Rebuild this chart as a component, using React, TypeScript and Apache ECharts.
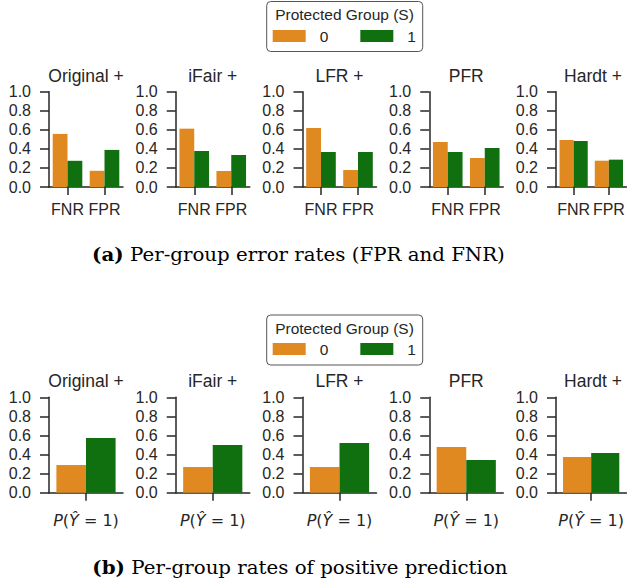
import React, { useEffect, useRef } from "react";
import * as echarts from "echarts";

const methods = ["Original +", "iFair +", "LFR +", "PFR", "Hardt +"];
const errorMetrics = ["FNR", "FPR"];
const groups = ["0", "1"];
// Per-group error rates
const fnrGroup0 = [0.557, 0.612, 0.619, 0.472, 0.493];
const fnrGroup1 = [0.275, 0.378, 0.367, 0.367, 0.483];
const fprGroup0 = [0.17, 0.168, 0.178, 0.304, 0.276];
const fprGroup1 = [0.389, 0.336, 0.367, 0.409, 0.287];
// Per-group positive prediction rates
const posCategory = ["P(Ŷ = 1)"];
const posGroup0 = [0.29, 0.269, 0.269, 0.479, 0.374];
const posGroup1 = [0.573, 0.5, 0.521, 0.343, 0.416];
const yTicks = [0, 0.2, 0.4, 0.6, 0.8, 1.0];

const ORANGE = "#DF8920";
const GREEN = "#107010";
const INK = "#262626";
const SANS = '"Liberation Sans", Arial, sans-serif';
const SERIF = '"DejaVu Serif", serif';

export default function App() {
  const ref = useRef<HTMLDivElement>(null);
  useEffect(() => {
    if (!ref.current) return;
    const chart = echarts.init(ref.current, undefined, { renderer: "svg" });
    const colLeft = (i: number) => 49 + i * 126.75;
    const gw = 74;
    const rows = [
      { top: 91.7, height: 95.3 },
      { top: 397.3, height: 95.4 },
    ];
    const grids: any[] = [];
    const xAxes: any[] = [];
    const yAxes: any[] = [];
    const series: any[] = [];
    const graphics: any[] = [];
    const axisLine = { show: true, lineStyle: { color: INK, width: 1.5 } };
    rows.forEach((r, ri) => {
      methods.forEach((m, i) => {
        const gi = ri * 5 + i;
        grids.push({ left: colLeft(i), top: r.top, width: gw, height: r.height });
        xAxes.push({
          type: "category",
          gridIndex: gi,
          data: ri === 0 ? errorMetrics : posCategory,
          axisLine,
          axisTick: { show: true, alignWithLabel: true, length: 8, lineStyle: { color: INK, width: 1.5 } },
          axisLabel:
            ri === 0
              ? { interval: 0, fontSize: 16, color: INK, fontFamily: SANS, margin: 14 }
              : {
                  interval: 0,
                  fontSize: 16,
                  color: INK,
                  fontFamily: '"DejaVu Sans", sans-serif',
                  margin: 20,
                  formatter: () => "{i|P}({i|Ŷ} = 1)",
                  rich: { i: { fontStyle: "italic", fontSize: 16, color: INK, fontFamily: '"DejaVu Sans", sans-serif' } },
                },
        });
        yAxes.push({
          type: "value",
          gridIndex: gi,
          min: yTicks[0],
          max: yTicks[yTicks.length - 1],
          interval: 0.2,
          splitLine: { show: false },
          axisLine,
          axisTick: { show: true, length: 9, lineStyle: { color: INK, width: 1.5 } },
          axisLabel: { fontSize: 16, color: INK, fontFamily: SANS, margin: 18, formatter: (v: number) => v.toFixed(1) },
        });
        const d0 = ri === 0 ? [fnrGroup0[i], fprGroup0[i]] : [posGroup0[i]];
        const d1 = ri === 0 ? [fnrGroup1[i], fprGroup1[i]] : [posGroup1[i]];
        [d0, d1].forEach((d, k) => {
          series.push({
            type: "bar",
            name: groups[k],
            xAxisIndex: gi,
            yAxisIndex: gi,
            data: d,
            barGap: "0%",
            barCategoryGap: "20%",
            itemStyle: { color: k === 0 ? ORANGE : GREEN },
          });
        });
        graphics.push({
          type: "text",
          x: colLeft(i) + gw / 2,
          y: r.top - 16,
          style: { text: m, fill: INK, fontSize: 17.5, fontFamily: SANS, align: "center", verticalAlign: "middle" },
        });
      });
    });
    // legend boxes and titles
    const legendOffsets = [0, 313.5];
    legendOffsets.forEach((off) => {
      graphics.push({
        type: "rect",
        shape: { x: 266.7, y: 1.5 + off, width: 156, height: 50, r: 4 },
        style: { fill: "#ffffff", stroke: "#555555", lineWidth: 1 },
        z: 0,
      });
      graphics.push({
        type: "text",
        x: 344.5,
        y: 14.5 + off,
        z: 1,
        style: { text: "Protected Group (S)", fill: INK, fontSize: 15.5, fontFamily: SANS, align: "center", verticalAlign: "middle" },
      });
    });
    const caption = (text: string, x: number, y: number) => ({
      type: "text",
      x,
      y,
      scaleX: 1.1,
      style: {
        text,
        fill: "#000",
        fontSize: 18,
        fontFamily: SERIF,
        align: "center",
        verticalAlign: "middle",
        rich: { b: { fontWeight: "bold", fontSize: 18, fontFamily: SERIF, fill: "#000" } },
      },
    });
    graphics.push(caption("{b|(a)} Per-group error rates (FPR and FNR)", 298.5, 254));
    graphics.push(caption("{b|(b)} Per-group rates of positive prediction", 300, 567));
    const legend = (off: number) => ({
      data: groups,
      left: 272.7,
      top: 28 + off,
      padding: 0,
      orient: "horizontal",
      itemWidth: 33,
      itemHeight: 12,
      itemGap: 32,
      icon: "rect",
      selectedMode: false,
      z: 5,
      textStyle: { fontSize: 15.5, color: INK, fontFamily: SANS, padding: [0, 0, 0, 9] },
    });
    chart.setOption({
      animation: false,
      backgroundColor: "#ffffff",
      grid: grids,
      xAxis: xAxes,
      yAxis: yAxes,
      series,
      legend: [legend(0), legend(313)],
      graphic: graphics,
    });
    return () => chart.dispose();
  }, []);
  return <div ref={ref} style={{ position: "absolute", left: 0, top: 0, width: 627, height: 582 }} />;
}
